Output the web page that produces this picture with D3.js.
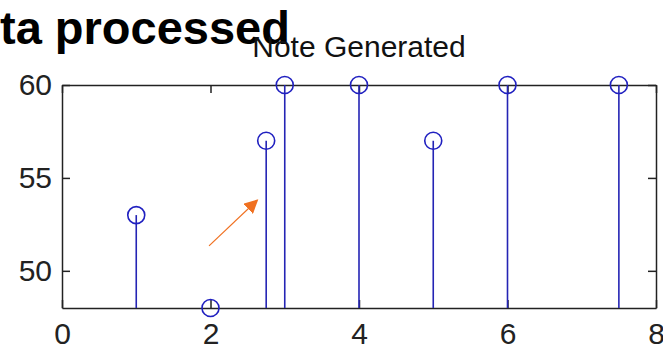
<!DOCTYPE html>
<html>
<head>
<meta charset="utf-8">
<script src="https://cdn.jsdelivr.net/npm/d3@7"></script>
<style>
  body { margin: 0; background: #fff; }
  svg { display: block; font-family: "Liberation Sans", Arial, sans-serif; }
  .axis path, .axis line { stroke: #222; stroke-width: 1.5; }
  .axis text { font-size: 30px; fill: #222; }
</style>
</head>
<body>
<div id="graph"></div>
<script>
// datos de la gráfica (tiempo vs nota)
const tiempos = [1, 2, 2.75, 3, 4, 5, 6, 7.5];
const notas = [53, 48, 57, 60, 60, 57, 60, 60];
const xTicks = [0, 2, 4, 6, 8];
const yTicks = [50, 55, 60];
const titulo = "Note Generated";
const rotulo = "ta processed";
// flecha naranja (en coordenadas de datos)
const flecha = [[1.98, 51.34], [2.63, 53.8]];

const width = 663, height = 348;
const svg = d3.select("#graph").append("svg")
    .attr("width", width)
    .attr("height", height);

const x = d3.scaleLinear().domain([0, 8]).range([62, 656]);
const y = d3.scaleLinear().domain([48, 60]).range([308, 85]);

// ejes estilo MATLAB, ticks hacia adentro
svg.append("g").attr("class", "axis")
    .attr("transform", `translate(0,${y(48)})`)
    .call(d3.axisBottom(x).tickValues(xTicks).tickSize(-8).tickSizeOuter(0).tickPadding(15));
svg.append("g").attr("class", "axis")
    .attr("transform", `translate(0,${y(60)})`)
    .call(d3.axisTop(x).tickValues(xTicks).tickSize(-8).tickSizeOuter(0).tickFormat(""));
svg.append("g").attr("class", "axis")
    .attr("transform", `translate(${x(0)},0)`)
    .call(d3.axisLeft(y).tickValues(yTicks).tickSize(-8).tickSizeOuter(0).tickPadding(10));
svg.append("g").attr("class", "axis")
    .attr("transform", `translate(${x(8)},0)`)
    .call(d3.axisRight(y).tickValues(yTicks).tickSize(-8).tickSizeOuter(0).tickFormat(""));

const datos = tiempos.map((t, i) => ({ t, v: notas[i] }));

// tallos
svg.selectAll("line.stem")
    .data(datos)
    .enter()
    .append("line")
    .attr("class", "stem")
    .attr("x1", d => x(d.t))
    .attr("x2", d => x(d.t))
    .attr("y1", y(48))
    .attr("y2", d => y(d.v))
    .attr("stroke", "#2424b4")
    .attr("stroke-width", 1.6);

// círculos
svg.selectAll("circle")
    .data(datos)
    .enter()
    .append("circle")
    .attr("cx", d => x(d.t))
    .attr("cy", d => y(d.v))
    .attr("r", 8.5)
    .attr("fill", "none")
    .attr("stroke", "#2020c0")
    .attr("stroke-width", 1.6);

// flecha
svg.append("defs").append("marker")
    .attr("id", "punta")
    .attr("viewBox", "0 0 10 10")
    .attr("refX", 9).attr("refY", 5)
    .attr("markerWidth", 14).attr("markerHeight", 14)
    .attr("markerUnits", "userSpaceOnUse")
    .attr("orient", "auto")
    .append("path")
    .attr("d", "M0,0L10,5L0,10z")
    .attr("fill", "#f07020");
svg.append("line")
    .attr("x1", x(flecha[0][0])).attr("y1", y(flecha[0][1]))
    .attr("x2", x(flecha[1][0])).attr("y2", y(flecha[1][1]))
    .attr("stroke", "#f07020")
    .attr("stroke-width", 1.2)
    .attr("marker-end", "url(#punta)");

// textos
svg.append("text")
    .attr("x", 0).attr("y", 44)
    .attr("font-size", 47)
    .attr("font-weight", "bold")
    .attr("fill", "#000")
    .text(rotulo);
svg.append("text")
    .attr("x", x(4)).attr("y", 57)
    .attr("text-anchor", "middle")
    .attr("font-size", 30)
    .attr("fill", "#111")
    .text(titulo);
</script>
</body>
</html>
